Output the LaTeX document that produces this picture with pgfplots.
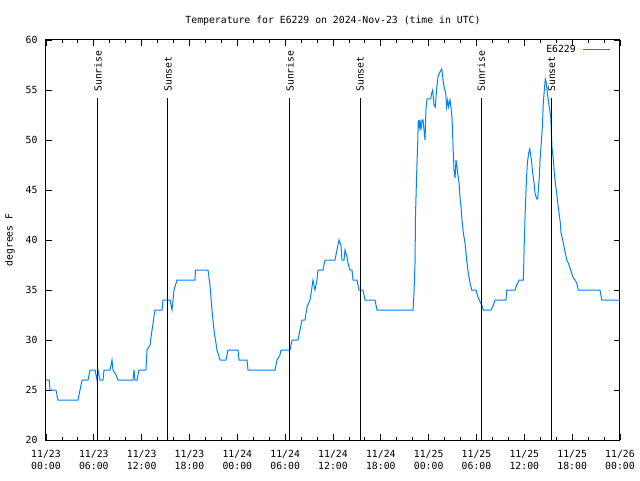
\documentclass[border=0pt]{standalone}
\usepackage{fontspec}
\setmainfont{DejaVu Sans Mono}
\usepackage{pgfplots}
\pgfplotsset{compat=1.18}
\definecolor{gblue}{RGB}{0,128,255}
\begin{document}
\begin{tikzpicture}
\path[use as bounding box] (-46pt,-40pt) rectangle (594pt,440pt);
\begin{axis}[
 at={(0,0)}, anchor=south west, scale only axis, width=574pt, height=400pt,
 font=\fontsize{9.8}{15}\selectfont,
 /pgf/number format/assume math mode=true,
 xmin=0, xmax=72, ymin=20, ymax=60,
 xtick={0,6,...,72}, minor x tick num=2,
 xticklabels={{11/23\\00:00},{11/23\\06:00},{11/23\\12:00},{11/23\\18:00},{11/24\\00:00},{11/24\\06:00},{11/24\\12:00},{11/24\\18:00},{11/25\\00:00},{11/25\\06:00},{11/25\\12:00},{11/25\\18:00},{11/26\\00:00}},
 xticklabel style={align=center, font=\fontsize{9.8}{12}\selectfont, yshift=-7pt},
 yticklabel style={xshift=-5pt},
 ytick={20,25,...,60},
 tick align=inside, major tick length=6pt, minor tick length=3pt,
 tick style={black, line width=0.8pt},
 axis line style={line width=1pt},
 title={Temperature for E6229 on 2024-Nov-23 (time in UTC)},
 title style={yshift=5pt},
 ylabel={degrees F},
 ylabel style={at={(axis description cs:-0.0627,0.5)}, anchor=center, rotate=0},
 legend style={draw=none, fill=none, at={(1,1)}, anchor=north east, xshift=-6pt, yshift=-1pt, font=\fontsize{9.8}{12}\selectfont},
 legend plot pos=right,
 legend cell align=right,
 legend image code/.code={\path (0pt,0pt); \draw[#1] (5pt,0pt) -- (32pt,0pt);},
]
\addplot[gblue, line width=1pt] coordinates {
(0,26) (0.41,26) (0.5,25) (1.25,25) (1.5,24) (4.01,24) (4.27,25) (4.52,26) (5.27,26) (5.52,27) (6.15,27) (6.4,26) (6.52,27) (6.77,26) (7.15,26) (7.28,27) (8.03,27) (8.28,28) (8.4,27) (8.78,26.5) (9.03,26) (10.91,26) (11.04,27) (11.16,26) (11.42,26) (11.67,27) (12.54,27) (12.67,29) (13.05,29.5) (13.3,31) (13.67,33) (14.55,33) (14.68,34) (15.56,34) (15.81,33) (16.06,35) (16.43,36) (18.69,36) (18.75,37) (20.32,37) (20.57,35.5) (20.82,33) (21.07,31) (21.45,29) (21.83,28) (22.58,28) (22.83,29) (24.09,29) (24.21,28) (25.21,28) (25.34,27) (28.73,27) (28.98,28) (29.35,28.5) (29.48,29) (30.6,29) (30.86,30) (31.61,30) (31.86,31) (32.11,32) (32.49,32) (32.74,33.3) (33.12,34) (33.37,35.3) (33.49,36) (33.74,35) (33.99,36) (34.12,37) (34.75,37) (35.0,38) (36.25,38) (36.5,39) (36.75,40) (37.0,39.5) (37.13,38) (37.38,38) (37.51,39) (37.76,38.3) (37.88,37.7) (38.13,37) (38.38,37) (38.51,36) (39.01,36) (39.26,35) (39.76,35) (40.01,34) (41.27,34) (41.52,33) (46.04,33) (46.16,34.7) (46.29,37.7) (46.35,42.5) (46.5,46.8) (46.63,49.8) (46.7,52) (46.83,51.3) (46.92,52) (47.04,51) (47.17,52) (47.29,52) (47.54,50) (47.67,53.2) (47.79,54.1) (48.26,54.1) (48.38,54.7) (48.51,55) (48.67,53.5) (48.83,53.3) (49.01,55.2) (49.17,56.3) (49.42,56.8) (49.64,57.1) (49.76,56.3) (49.93,55.3) (50.14,54.7) (50.26,53.3) (50.39,54) (50.51,53.3) (50.68,54) (50.8,53.3) (50.93,52.2) (51.09,48.7) (51.18,47) (51.31,46.2) (51.43,48) (51.56,47.3) (51.64,46.7) (51.81,45.7) (51.93,44.3) (52.06,43.3) (52.18,42) (52.35,40.7) (52.56,39.7) (52.77,38) (52.97,36.7) (53.19,35.7) (53.4,35) (53.94,35) (54.1,34.5) (54.35,34) (54.65,33.5) (54.86,33) (55.82,33) (56.11,33.5) (56.32,34) (57.7,34) (57.79,35) (58.83,35) (59.04,35.5) (59.37,36) (59.87,36) (59.92,37.3) (60.0,40) (60.12,43) (60.25,45.7) (60.38,47.7) (60.55,48.7) (60.68,49.1) (60.8,48.5) (60.93,47.7) (61.05,46.7) (61.22,45.7) (61.34,44.7) (61.55,44.1) (61.68,44.1) (61.75,45) (61.88,46.3) (61.97,48) (62.09,49.3) (62.22,50.8) (62.31,52.2) (62.38,53.7) (62.51,55) (62.63,56.1) (62.76,55.7) (62.88,54.7) (63.01,54) (63.13,53.3) (63.31,52.3) (63.38,51) (63.47,49.3) (63.64,48) (63.76,46.7) (63.89,45.7) (64.06,44.7) (64.19,43.7) (64.35,42.7) (64.52,41.7) (64.6,40.7) (64.81,40) (64.98,39.3) (65.14,38.7) (65.32,38) (65.52,37.7) (65.73,37.2) (65.94,36.7) (66.14,36.2) (66.36,36) (66.57,35.7) (66.77,35) (69.49,35) (69.71,34) (72,34)
};
\addlegendentry{E6229}
\addplot[black, line width=1pt, forget plot] coordinates {(6.52,20) (6.52,54.2)};
\addplot[black, line width=1pt, forget plot] coordinates {(15.3,20) (15.3,54.2)};
\addplot[black, line width=1pt, forget plot] coordinates {(30.6,20) (30.6,54.2)};
\addplot[black, line width=1pt, forget plot] coordinates {(39.4,20) (39.4,54.2)};
\addplot[black, line width=1pt, forget plot] coordinates {(54.6,20) (54.6,54.2)};
\addplot[black, line width=1pt, forget plot] coordinates {(63.4,20) (63.4,54.2)};
\node[rotate=90, anchor=west, inner sep=0pt] at (axis cs:6.52,54.8) {Sunrise};
\node[rotate=90, anchor=west, inner sep=0pt] at (axis cs:15.3,54.8) {Sunset};
\node[rotate=90, anchor=west, inner sep=0pt] at (axis cs:30.6,54.8) {Sunrise};
\node[rotate=90, anchor=west, inner sep=0pt] at (axis cs:39.4,54.8) {Sunset};
\node[rotate=90, anchor=west, inner sep=0pt] at (axis cs:54.6,54.8) {Sunrise};
\node[rotate=90, anchor=west, inner sep=0pt] at (axis cs:63.4,54.8) {Sunset};
\end{axis}
\end{tikzpicture}
\end{document}
